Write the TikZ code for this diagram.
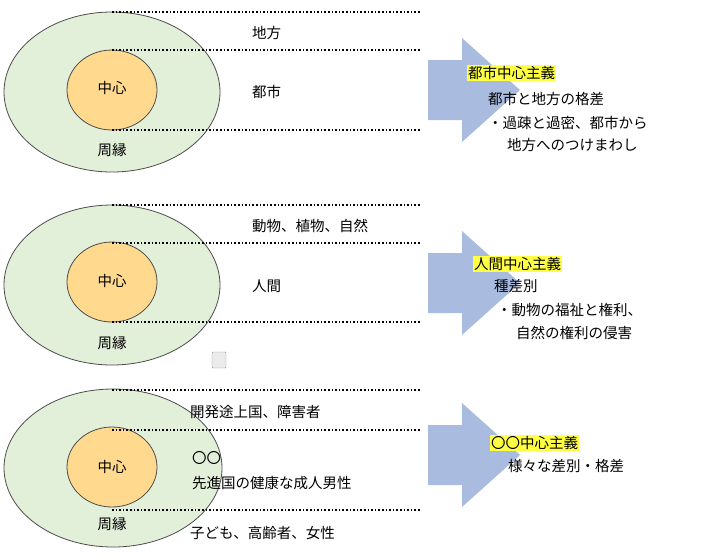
\documentclass[tikz,border=0pt]{standalone}
\usepackage{fontspec}
\newfontfamily\jp{Noto Sans CJK JP}
\usetikzlibrary{shapes.geometric}
\definecolor{outerg}{HTML}{E2EFD9}
\definecolor{innero}{HTML}{FFD98E}
\definecolor{arrowb}{HTML}{A9BCE0}
\definecolor{hl}{HTML}{FFFF44}
\tikzset{
 outer/.style={draw=black!70,fill=outerg,line width=0.8pt},
 inner/.style={draw=black!70,fill=innero,line width=0.8pt},
 dot/.style={dotted,line width=1.6pt},
 lab/.style={font=\jp\fontsize{14.5}{16}\selectfont,inner sep=0pt},
 llab/.style={lab,anchor=west},
 hlab/.style={llab,fill=hl,inner sep=1pt},
 bigarrow/.style={fill=arrowb,draw=none}
}
\newcommand{\blockarrow}[1]{\fill[bigarrow] (428,#1-30) -- (462,#1-30) -- (462,#1-52) -- (520,#1) -- (462,#1+52) -- (462,#1+30) -- (428,#1+30) -- cycle;}
\begin{document}
\begin{tikzpicture}[x=1pt,y=-1pt]
\useasboundingbox (0,0) rectangle (720,558);
% panel 1
\node[outer,ellipse,minimum width=216,minimum height=160] (o1) at (112,92) {};
\node[inner,ellipse,minimum width=90,minimum height=80] (i1) at (112,90) {};
\node[lab] (c1) at (112,88) {中心};
\node[lab] (p1) at (112,150) {周縁};
\coordinate (a1) at (112,12); \coordinate (b1) at (420,12);
\coordinate (a2) at (112,50); \coordinate (b2) at (420,50);
\coordinate (a3) at (112,130); \coordinate (b3) at (420,130);
\draw[dot] (a1)--(b1); \draw[dot] (a2)--(b2); \draw[dot] (a3)--(b3);
\node[llab] (t11) at (252,33) {地方};
\node[llab] (t12) at (252,92) {都市};
\blockarrow{90}
\node[hlab] (h1) at (467,73) {都市中心主義};
\node[llab] (s11) at (488,99) {都市と地方の格差};
\node[llab] (s12) at (488,123) {・過疎と過密、都市から};
\node[llab] (s13) at (507,145) {地方へのつけまわし};
% panel 2
\node[outer,ellipse,minimum width=216,minimum height=160] (o2) at (112,285) {};
\node[inner,ellipse,minimum width=90,minimum height=80] (i2) at (112,282) {};
\node[lab] (c2) at (112,281) {中心};
\node[lab] (p2) at (112,343) {周縁};
\coordinate (d1) at (112,205); \coordinate (e1) at (420,205);
\coordinate (d2) at (112,243); \coordinate (e2) at (420,243);
\coordinate (d3) at (112,322); \coordinate (e3) at (420,322);
\draw[dot] (d1)--(e1); \draw[dot] (d2)--(e2); \draw[dot] (d3)--(e3);
\node[llab] (t21) at (252,226) {動物、植物、自然};
\node[llab] (t22) at (252,286) {人間};
\blockarrow{283}
\node[hlab] (h2) at (473,264) {人間中心主義};
\node[llab] (s21) at (494,286) {種差別};
\node[llab] (s22) at (497,310) {・動物の福祉と権利、};
\node[llab] (s23) at (516,333) {自然の権利の侵害};
\node[draw=black!40,fill=black!8,minimum width=14,minimum height=16,inner sep=0,rounded corners=1] (clip) at (219,360) {};
% panel 3
\node[outer,ellipse,minimum width=218,minimum height=158] (o3) at (113,468) {};
\node[inner,ellipse,minimum width=90,minimum height=80] (i3) at (112,467) {};
\node[lab] (c3) at (112,467) {中心};
\node[lab] (p3) at (112,524) {周縁};
\coordinate (f1) at (112,390); \coordinate (g1) at (420,390);
\coordinate (f2) at (112,430); \coordinate (g2) at (420,430);
\coordinate (f3) at (112,510); \coordinate (g3) at (420,510);
\draw[dot] (f1)--(g1); \draw[dot] (f2)--(g2); \draw[dot] (f3)--(g3);
\node[llab] (t31) at (190,412) {開発途上国、障害者};
\node[llab] (t32) at (192,458) {〇〇};
\node[llab] (t33) at (192,483) {先進国の健康な成人男性};
\node[llab] (t34) at (190,533) {子ども、高齢者、女性};
\blockarrow{455}
\node[hlab] (h3) at (490,443) {〇〇中心主義};
\node[llab] (s31) at (508,466) {様々な差別・格差};
\end{tikzpicture}
\end{document}
